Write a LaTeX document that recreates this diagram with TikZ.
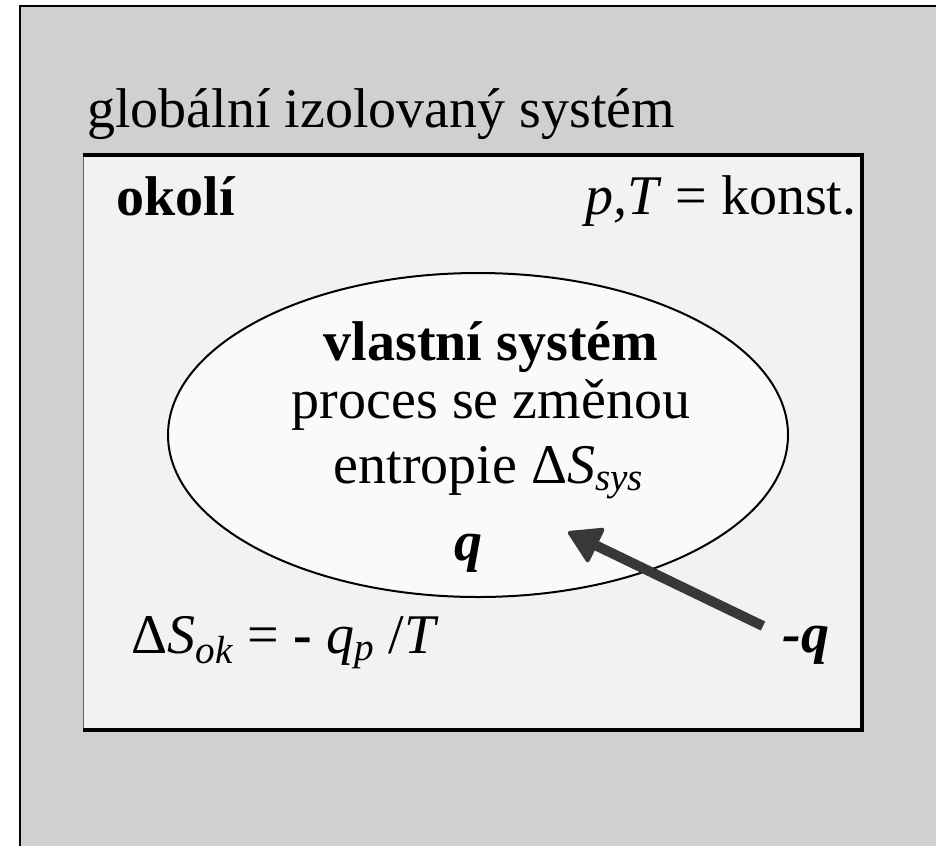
\documentclass[tikz,border=0pt]{standalone}
\usepackage{fontspec}
\setmainfont{Liberation Serif}
\usetikzlibrary{arrows.meta, shapes.geometric}

\definecolor{globalgray}{RGB}{208,208,208}
\definecolor{okoligray}{RGB}{242,242,242}
\definecolor{sysgray}{RGB}{250,250,250}
\definecolor{arrowgray}{RGB}{56,56,56}

\begin{document}
\begin{tikzpicture}[
  x=0.5pt, y=-0.5pt,
  every node/.style={
    inner sep=0pt,
    font=\fontsize{28}{31}\selectfont
  },
  txt/.style={anchor=base west},
  txtmid/.style={anchor=base},
  txtright/.style={anchor=base east},
  arrow/.style={-{Triangle[length=17pt, width=20pt, line width=2pt, round]},
    line width=5pt, arrowgray}
]
\useasboundingbox (0,0) rectangle (936,846);

% Global isolated system
\fill[globalgray] (20,6) rectangle (936,846);
\draw[line width=1.25pt] (936,6) -- (20,6) -- (20,846);
\node[txt] (global) at (87,127) {globální izolovaný systém};

% Surroundings
\fill[okoligray] (83,155) rectangle (862,730);
\draw[line width=0.5pt, black!60] (83,730) -- (83,155);
\draw[line width=1.75pt] (83,155) -- (862,155) -- (862,730) -- (83,730);
\node[txt] (okoli) at (116,215) {\textbf{okolí}};
\node[txtright] (konst) at (857,214) {\textit{p,T} = konst.};
\node[txt] (dsok) at (131,653)
  {Δ\textit{S}\textsubscript{\textit{ok}} = \textbf{-} \textit{q}\textsubscript{\textit{p}} /\textit{T}};

% Own system
\node[ellipse, draw, line width=1pt, fill=sysgray,
  minimum width=310pt, minimum height=162pt] (sys) at (478,435) {};
\node[txtmid] (sysname) at (491,360) {\textbf{vlastní systém}};
\node[txtmid] (proc) at (491,418) {proces se změnou};
\node[txtmid] (entr) at (489,483) {entropie Δ\textit{S}\textsubscript{\textit{sys}}};
\node[txtmid] (qsys) at (468,560) {\textbf{\textit{q}}};

% Heat flow
\node[txt] (qok) at (782,652) {\textbf{\textit{-q}}};
\coordinate (qtail) at (763,626);
\coordinate (qtip) at (568,532);
\draw[arrow] (qtail) -- (qtip);

\end{tikzpicture}
\end{document}
